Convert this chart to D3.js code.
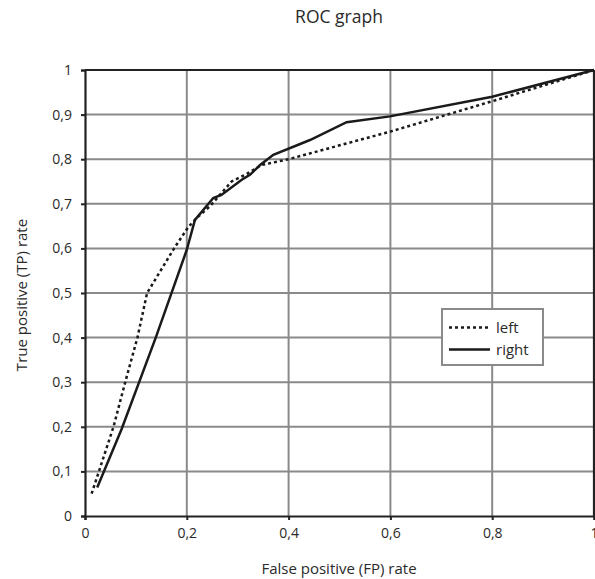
<!DOCTYPE html>
<html>
<head>
<meta charset="utf-8">
<script src="https://cdn.jsdelivr.net/npm/d3@7"></script>
<style>
  html, body { margin: 0; padding: 0; background: #fff; }
  svg text { font-family: "Open Sans", sans-serif; fill: #2a2a2a; }
</style>
</head>
<body>
<svg id="chart" width="595" height="579"></svg>
<script>
// ---- data ----
const leftFP = [0.013, 0.056, 0.079, 0.103, 0.122, 0.175, 0.203, 0.223, 0.246, 0.288, 0.318, 0.347, 0.4, 0.6, 0.8, 1.0];
const leftTP = [0.05, 0.2, 0.3, 0.4, 0.5, 0.6, 0.648, 0.672, 0.695, 0.75, 0.767, 0.787, 0.80, 0.862, 0.93, 1.0];
const rightFP = [0.024, 0.072, 0.139, 0.2, 0.216, 0.252, 0.268, 0.308, 0.324, 0.344, 0.37, 0.442, 0.514, 0.599, 0.8, 1.0];
const rightTP = [0.064, 0.195, 0.4, 0.597, 0.664, 0.713, 0.72, 0.754, 0.765, 0.787, 0.81, 0.843, 0.883, 0.896, 0.94, 1.0];
const xTicks = [0, 0.2, 0.4, 0.6, 0.8, 1];
const yTicks = [0, 0.1, 0.2, 0.3, 0.4, 0.5, 0.6, 0.7, 0.8, 0.9, 1];
const seriesNames = ["left", "right"];

const svg = d3.select("#chart");
const L = 85, R = 594, T = 70, B = 516;
const x = d3.scaleLinear().domain([0, 1]).range([L, R]);
const y = d3.scaleLinear().domain([0, 1]).range([B, T]);
const fmt = d => d === 0 ? "0" : d === 1 ? "1" : String(d).replace(".", ",");

// gridlines
svg.append("g").selectAll("line").data(xTicks.slice(1, -1)).join("line")
  .attr("x1", d => x(d)).attr("x2", d => x(d)).attr("y1", T).attr("y2", B)
  .attr("stroke", "#8a8a8a").attr("stroke-width", 2);
svg.append("g").selectAll("line").data(yTicks.slice(1, -1)).join("line")
  .attr("x1", L).attr("x2", R).attr("y1", d => y(d)).attr("y2", d => y(d))
  .attr("stroke", "#8a8a8a").attr("stroke-width", 2);

// frame: top and right
svg.append("line").attr("x1", L).attr("x2", R).attr("y1", T).attr("y2", T)
  .attr("stroke", "#222").attr("stroke-width", 2.2);
svg.append("line").attr("x1", R).attr("x2", R).attr("y1", T).attr("y2", B)
  .attr("stroke", "#222").attr("stroke-width", 2.2);

// axes
const xAxis = svg.append("g").attr("transform", `translate(0,${B})`)
  .call(d3.axisBottom(x).tickValues(xTicks).tickFormat(fmt).tickSize(4).tickPadding(8));
const yAxis = svg.append("g").attr("transform", `translate(${L},0)`)
  .call(d3.axisLeft(y).tickValues(yTicks).tickFormat(fmt).tickSize(4).tickPadding(9));
[xAxis, yAxis].forEach(a => {
  a.select(".domain").attr("stroke", "#222").attr("stroke-width", 2.2);
  a.selectAll(".tick line").attr("stroke", "#222").attr("stroke-width", 2);
  a.selectAll(".tick text").attr("font-size", 14).attr("fill", "#2a2a2a")
    .attr("font-family", "'Open Sans', sans-serif");
});

// lines
const line = d3.line().x(d => x(d[0])).y(d => y(d[1]));
const leftData = leftFP.map((v, i) => [v, leftTP[i]]);
const rightData = rightFP.map((v, i) => [v, rightTP[i]]);
svg.append("path").datum(leftData).attr("d", line)
  .attr("fill", "none").attr("stroke", "#1a1a1a").attr("stroke-width", 2.5)
  .attr("stroke-dasharray", "3,3");
svg.append("path").datum(rightData).attr("d", line)
  .attr("fill", "none").attr("stroke", "#1a1a1a").attr("stroke-width", 2.5);

// legend
const lg = svg.append("g");
lg.append("rect").attr("x", 442).attr("y", 309).attr("width", 101).attr("height", 56)
  .attr("fill", "#fff").attr("stroke", "#8a8a8a").attr("stroke-width", 2);
seriesNames.forEach((n, i) => {
  const yy = 327.5 + i * 22;
  lg.append("line").attr("x1", 449).attr("x2", 490).attr("y1", yy).attr("y2", yy)
    .attr("stroke", "#1a1a1a").attr("stroke-width", 2.5)
    .attr("stroke-dasharray", i === 0 ? "3,3" : null);
  lg.append("text").attr("x", 496).attr("y", yy + 5).attr("font-size", 15).text(n);
});

// titles
svg.append("text").attr("x", 339).attr("y", 23).attr("text-anchor", "middle")
  .attr("font-size", 17.5).text("ROC graph");
svg.append("text").attr("x", 339).attr("y", 574).attr("text-anchor", "middle")
  .attr("font-size", 15).text("False positive (FP) rate");
svg.append("text").attr("transform", "translate(27,295) rotate(-90)").attr("text-anchor", "middle")
  .attr("font-size", 15).text("True positive (TP) rate");
</script>
</body>
</html>
